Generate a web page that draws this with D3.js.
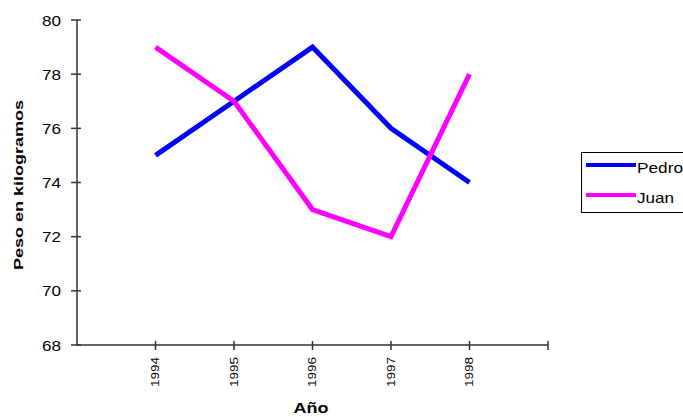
<!DOCTYPE html>
<html lang="es">
<head>
<meta charset="UTF-8">
<title>Peso en kilogramos</title>
<script src="https://d3js.org/d3.v7.min.js"></script>
<style>
  body { margin: 0; background: #fff; }
  text { font-family: "Liberation Sans", Arial, sans-serif; fill: #000; }
</style>
</head>
<body>
<svg id="chart" width="683" height="417"></svg>
<script>
// data
var years = [1994, 1995, 1996, 1997, 1998];
var pedro = [75, 77, 79, 76, 74];
var juan = [79, 77, 73, 72, 78];
var yTicks = [68, 70, 72, 74, 76, 78, 80];
var seriesNames = ["Pedro", "Juan"];
var seriesColors = ["#0000ff", "#ff00ff"];

var svg = d3.select("#chart");
var axisColor = "#333";

var x = d3.scaleLinear().domain([1993, 1999]).range([77, 548]);
var y = d3.scaleLinear().domain([68, 80]).range([345, 20]);

// y axis
svg.append("line")
    .attr("x1", x(1993)).attr("x2", x(1993))
    .attr("y1", y(80)).attr("y2", y(68))
    .attr("stroke", axisColor).attr("stroke-width", 1.5);
svg.selectAll(".ytick").data(yTicks).enter().append("line")
    .attr("x1", x(1993) - 6).attr("x2", x(1993) + 4)
    .attr("y1", d => y(d)).attr("y2", d => y(d))
    .attr("stroke", axisColor).attr("stroke-width", 1.5);
svg.selectAll(".ylab").data(yTicks).enter().append("text")
    .attr("x", 61).attr("y", d => y(d) + 5.5)
    .attr("text-anchor", "end")
    .attr("font-size", 15)
    .attr("textLength", 19).attr("lengthAdjust", "spacingAndGlyphs")
    .text(d => d);

// x axis
svg.append("line")
    .attr("x1", x(1993)).attr("x2", x(1999))
    .attr("y1", y(68)).attr("y2", y(68))
    .attr("stroke", axisColor).attr("stroke-width", 1.5);
svg.selectAll(".xtick").data(years.concat([1999])).enter().append("line")
    .attr("x1", d => x(d)).attr("x2", d => x(d))
    .attr("y1", y(68) - 4).attr("y2", y(68) + 5)
    .attr("stroke", axisColor).attr("stroke-width", 1.5);
svg.selectAll(".xlab").data(years).enter().append("text")
    .attr("transform", d => "translate(" + (x(d) + 3.5) + ",357) rotate(-90)")
    .attr("text-anchor", "end")
    .attr("font-size", 11)
    .attr("textLength", 30).attr("lengthAdjust", "spacingAndGlyphs")
    .text(d => d);

// axis titles
svg.append("text")
    .attr("transform", "translate(23,185) rotate(-90)")
    .attr("text-anchor", "middle")
    .attr("font-size", 13).attr("font-weight", "bold")
    .attr("textLength", 170).attr("lengthAdjust", "spacingAndGlyphs")
    .text("Peso en kilogramos");
svg.append("text")
    .attr("x", 311).attr("y", 413)
    .attr("text-anchor", "middle")
    .attr("font-size", 14).attr("font-weight", "bold")
    .attr("textLength", 35).attr("lengthAdjust", "spacingAndGlyphs")
    .text("Año");

// lines
var line = d3.line().x((d, i) => x(years[i])).y(d => y(d));
[pedro, juan].forEach(function (s, i) {
    svg.append("path")
        .attr("d", line(s))
        .attr("fill", "none")
        .attr("stroke", seriesColors[i])
        .attr("stroke-width", 5)
        .attr("stroke-linejoin", "miter");
});

// legend
svg.append("rect")
    .attr("x", 581.5).attr("y", 152.5)
    .attr("width", 120).attr("height", 60)
    .attr("fill", "#fff").attr("stroke", "#000").attr("stroke-width", 1);
var legendLens = [46, 37];
seriesNames.forEach(function (n, i) {
    var ly = 165 + i * 30;
    svg.append("line")
        .attr("x1", 586).attr("x2", 636)
        .attr("y1", ly).attr("y2", ly)
        .attr("stroke", seriesColors[i]).attr("stroke-width", 4);
    svg.append("text")
        .attr("x", 637).attr("y", ly + 8)
        .attr("font-size", 15)
        .attr("textLength", legendLens[i]).attr("lengthAdjust", "spacingAndGlyphs")
        .text(n);
});
</script>
</body>
</html>
